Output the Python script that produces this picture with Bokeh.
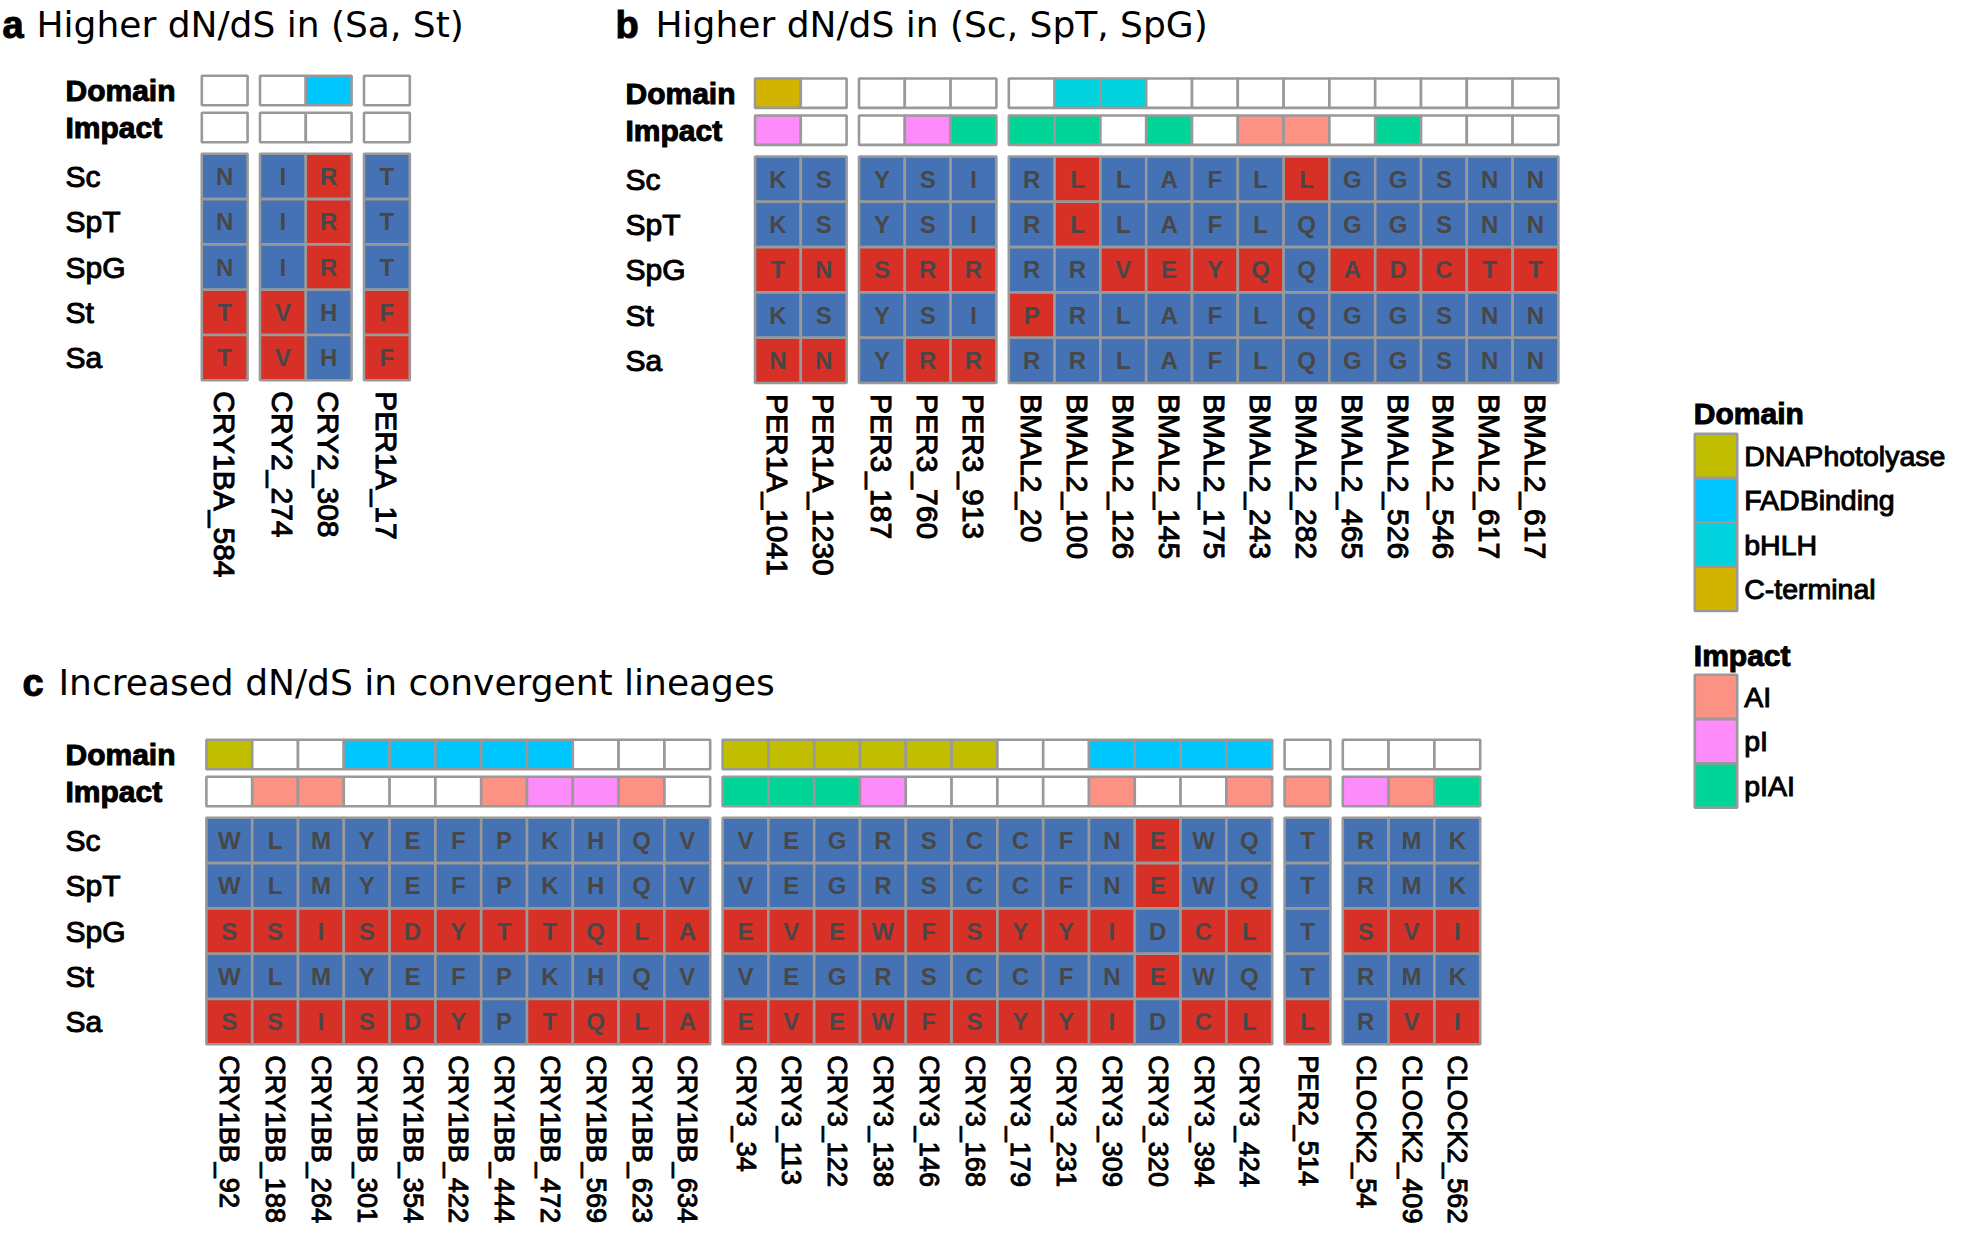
import math
from bokeh.plotting import figure
from bokeh.models import Range1d
from bokeh.core.properties import value
from bokeh.embed import file_html
from bokeh.resources import INLINE

# ---------------- data ----------------
species = ["Sc", "SpT", "SpG", "St", "Sa"]

# panel a
a_groups = [["CRY1BA_584"], ["CRY2_274", "CRY2_308"], ["PER1A_17"]]
a_domain = ["", "", "FADBinding", ""]
a_impact = ["", "", "", ""]
a_residues = ["NNNTT", "IIIVV", "RRRHH", "TTTFF"]          # Sc, SpT, SpG, St, Sa
a_state = ["00011", "00011", "11100", "00011"]              # 1 = red (changed), 0 = blue

# panel b
b_groups = [["PER1A_1041", "PER1A_1230"],
            ["PER3_187", "PER3_760", "PER3_913"],
            ["BMAL2_20", "BMAL2_100", "BMAL2_126", "BMAL2_145", "BMAL2_175", "BMAL2_243",
             "BMAL2_282", "BMAL2_465", "BMAL2_526", "BMAL2_546", "BMAL2_617", "BMAL2_617"]]
b_domain = ["C-terminal", "", "", "", "", "", "bHLH", "bHLH", "", "", "", "", "", "", "", "", ""]
b_impact = ["pI", "", "", "pI", "pIAI", "pIAI", "pIAI", "", "pIAI", "", "AI", "AI", "", "pIAI", "", "", ""]
b_residues = ["KKTKN", "SSNSN", "YYSYY", "SSRSR", "IIRIR", "RRRPR", "LLRRR", "LLVLL", "AAEAA",
              "FFYFF", "LLQLL", "LQQQQ", "GGAGG", "GGDGG", "SSCSS", "NNTNN", "NNTNN"]
b_state = ["00101", "00101", "00100", "00101", "00101", "00010", "11000", "00100", "00100",
           "00100", "00100", "10000", "00100", "00100", "00100", "00100", "00100"]

# panel c
c_groups = [["CRY1BB_92", "CRY1BB_188", "CRY1BB_264", "CRY1BB_301", "CRY1BB_354", "CRY1BB_422",
             "CRY1BB_444", "CRY1BB_472", "CRY1BB_569", "CRY1BB_623", "CRY1BB_634"],
            ["CRY3_34", "CRY3_113", "CRY3_122", "CRY3_138", "CRY3_146", "CRY3_168", "CRY3_179",
             "CRY3_231", "CRY3_309", "CRY3_320", "CRY3_394", "CRY3_424"],
            ["PER2_514"],
            ["CLOCK2_54", "CLOCK2_409", "CLOCK2_562"]]
c_domain = (["DNAPhotolyase", "", "", "FADBinding", "FADBinding", "FADBinding", "FADBinding",
             "FADBinding", "", "", ""]
            + ["DNAPhotolyase"] * 6 + ["", ""] + ["FADBinding"] * 4
            + [""] + ["", "", ""])
c_impact = (["", "AI", "AI", "", "", "", "AI", "pI", "pI", "AI", ""]
            + ["pIAI", "pIAI", "pIAI", "pI", "", "", "", "", "AI", "", "", "AI"]
            + ["AI"] + ["pI", "AI", "pIAI"])
c_residues = ["WWSWS", "LLSLS", "MMIMI", "YYSYS", "EEDED", "FFYFY", "PPTPP", "KKTKT", "HHQHQ",
              "QQLQL", "VVAVA",
              "VVEVE", "EEVEV", "GGEGE", "RRWRW", "SSFSF", "CCSCS", "CCYCY", "FFYFY", "NNINI",
              "EEDED", "WWCWC", "QQLQL",
              "TTTTL",
              "RRSRR", "MMVMV", "KKIKI"]
c_state = ["00101"] * 6 + ["00100"] + ["00101"] * 4 \
          + ["00101"] * 9 + ["11010"] + ["00101"] * 2 \
          + ["00001"] \
          + ["00100", "00101", "00101"]

domain_levels = ["DNAPhotolyase", "FADBinding", "bHLH", "C-terminal"]
impact_levels = ["AI", "pI", "pIAI"]

titles = [("a", "Higher dN/dS in (Sa, St)"),
          ("b", "Higher dN/dS in (Sc, SpT, SpG)"),
          ("c", "Increased dN/dS in convergent lineages")]

# ---------------- styles ----------------
DOMAIN_COLORS = {"DNAPhotolyase": "#c1bd00", "FADBinding": "#00c6ff", "bHLH": "#00d3dd",
                 "C-terminal": "#d2b400", "": "#ffffff"}
IMPACT_COLORS = {"AI": "#fb9283", "pI": "#fd8bfa", "pIAI": "#00d497", "": "#ffffff"}
RED, BLUE = "#d73027", "#4472b5"
BORDER = "#999999"
LETTER = "#474747"
SANS = value("Liberation Sans")
TITLE_FONT = value("DejaVu Sans")

# geometry (page pixels)
CELL = 45.8
GAP = 12.4
ROW_H = 45.3
ANN_H = 29.4
DOM_OFF = 63.3
IMP_OFF = 26.3
LW = 2.6
LAB_OFF = 11.0

W, H = 1952, 1228
p = figure(width=W, height=H, x_range=Range1d(0, W), y_range=Range1d(H, 0),
           output_backend="svg", toolbar_location=None, min_border=0,
           x_axis_type=None, y_axis_type=None)
p.outline_line_color = None
p.background_fill_color = "white"
p.border_fill_color = "white"


def draw_panel(groups, domain, impact, residues, state, x0, ym, label_x, lab_size):
    xs, labs = [], []
    pos = x0 + CELL / 2
    for g in groups:
        for lab in g:
            xs.append(pos)
            labs.append(lab)
            pos += CELL
        pos += GAP
    n = len(xs)
    yd = ym - DOM_OFF
    yi = ym - IMP_OFF
    p.rect(x=xs, y=[yd] * n, width=CELL, height=ANN_H,
           fill_color=[DOMAIN_COLORS[d] for d in domain], line_color=BORDER, line_width=LW)
    p.rect(x=xs, y=[yi] * n, width=CELL, height=ANN_H,
           fill_color=[IMPACT_COLORS[d] for d in impact], line_color=BORDER, line_width=LW)
    cx, cy, cf, ct = [], [], [], []
    for j in range(n):
        for i in range(len(species)):
            cx.append(xs[j])
            cy.append(ym + (i + 0.5) * ROW_H)
            cf.append(RED if state[j][i] == "1" else BLUE)
            ct.append(residues[j][i])
    p.rect(x=cx, y=cy, width=CELL, height=ROW_H, fill_color=cf, line_color=BORDER, line_width=LW)
    p.text(x=cx, y=cy, text=ct, text_align="center", text_baseline="middle",
           text_font=SANS, text_font_style="bold", text_font_size="24px", text_color=LETTER)
    # row labels
    p.text(x=[label_x] * 2, y=[yd, yi], text=["Domain", "Impact"], text_align="left",
           text_baseline="middle", text_font=SANS, text_font_style="bold",
           text_font_size="30px", text_color="black", text_outline_color="black")
    p.text(x=[label_x] * len(species), y=[ym + (i + 0.5) * ROW_H for i in range(len(species))],
           text=species, text_align="left", text_baseline="middle", text_font=SANS,
           text_font_size="30px", text_color="black", text_outline_color="black")
    # column labels
    p.text(x=xs, y=[ym + len(species) * ROW_H + LAB_OFF] * n, text=labs, angle=-math.pi / 2,
           text_align="left", text_baseline="middle", text_font=SANS,
           text_font_size=lab_size, text_color="black", text_outline_color="black")


draw_panel(a_groups, a_domain, a_impact, a_residues, a_state, 201.3, 153.3, 65, "30px")
draw_panel(b_groups, b_domain, b_impact, b_residues, b_state, 754.5, 156.0, 625, "30px")
draw_panel(c_groups, c_domain, c_impact, c_residues, c_state, 205.9, 817.3, 65, "27px")

# titles
title_pos = [(2, 36, 24), (615, 655, 24), (22, 58, 682)]
for (letter, txt), (lx, tx, ty) in zip(titles, title_pos):
    p.text(x=[lx], y=[ty], text=[letter], text_align="left", text_baseline="alphabetic",
           text_font=SANS, text_font_style="bold", text_font_size="38px", text_color="black",
           text_outline_color="black")
    p.text(x=[tx], y=[ty], text=[txt], text_align="left", text_baseline="alphabetic",
           text_font=TITLE_FONT, text_font_size="36px", text_color="black")

# legend
LEG_X = 1694.3
KEY_W = 42.4
KEY_H = 44.3


def draw_legend(title, levels, colors, title_y, top):
    p.text(x=[LEG_X - 1], y=[title_y], text=[title], text_align="left", text_baseline="middle",
           text_font=SANS, text_font_style="bold", text_font_size="30px", text_color="black",
           text_outline_color="black")
    ys = [top + (k + 0.5) * KEY_H for k in range(len(levels))]
    p.rect(x=[LEG_X + KEY_W / 2] * len(levels), y=ys, width=KEY_W, height=KEY_H,
           fill_color=[colors[l] for l in levels], line_color=BORDER, line_width=LW)
    p.text(x=[LEG_X + KEY_W + 7] * len(levels), y=ys, text=levels, text_align="left",
           text_baseline="middle", text_font=SANS, text_font_size="28.5px", text_color="black",
           text_outline_color="black")


draw_legend("Domain", domain_levels, DOMAIN_COLORS, 413, 433.3)
draw_legend("Impact", impact_levels, IMPACT_COLORS, 655, 674.3)

open("out.html", "w").write(file_html(p, INLINE))
